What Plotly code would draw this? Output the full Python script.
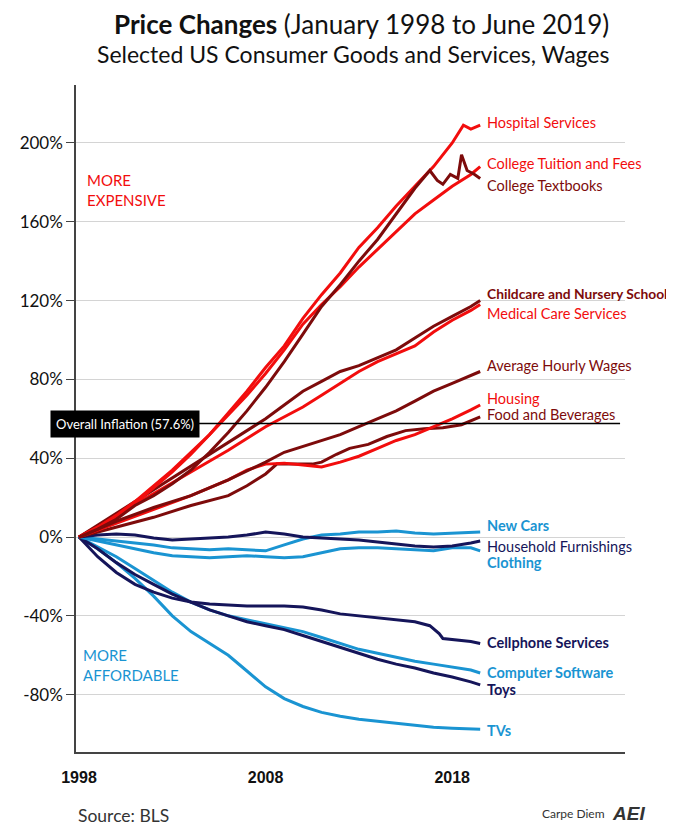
import plotly.graph_objects as go

# ---------------- data (percent change since Jan 1998) ----------------
hosp_x = [1998, 1999, 2000, 2001, 2002, 2003, 2004, 2005, 2006, 2007, 2008, 2009, 2010, 2011, 2012, 2013, 2014, 2015, 2016, 2017, 2018, 2018.6, 2019, 2019.5]
hosp_y = [0, 5, 11, 18, 26, 34, 43, 52, 63, 74, 86, 97, 111, 123, 134, 147, 157, 168, 178, 188, 200, 209, 207, 209]

tuit_x = [1998, 1999, 2000, 2001, 2002, 2003, 2004, 2005, 2006, 2007, 2008, 2009, 2010, 2011, 2012, 2013, 2014, 2015, 2016, 2017, 2018, 2019, 2019.5]
tuit_y = [0, 5, 10, 17, 25, 33, 42, 52, 62, 72, 83, 95, 108, 118, 127, 137, 146, 155, 164, 171, 178, 184, 188]

book_x = [1998, 1999, 2000, 2001, 2002, 2003, 2004, 2005, 2006, 2007, 2008, 2009, 2010, 2011, 2012, 2013, 2014, 2015, 2016, 2016.8, 2017.2, 2017.5, 2017.9, 2018.3, 2018.5, 2018.8, 2019.2, 2019.5]
book_y = [0, 4, 9, 16, 21, 27, 34, 43, 53, 64, 76, 89, 103, 117, 128, 140, 151, 164, 177, 186, 181, 179, 184, 182, 194, 186, 184, 182]

child_x = [1998, 2000, 2002, 2004, 2006, 2008, 2009, 2010, 2011, 2012, 2013, 2014, 2015, 2016, 2017, 2018, 2019, 2019.5]
child_y = [0, 12, 24, 36, 48, 60, 67, 74, 79, 84, 87, 91, 95, 101, 107, 112, 117, 120]

med_x = [1998, 2000, 2002, 2004, 2006, 2008, 2009, 2010, 2011, 2012, 2013, 2014, 2015, 2016, 2017, 2018, 2019, 2019.5]
med_y = [0, 11, 22, 33, 44, 56, 61, 66, 72, 78, 84, 89, 93, 97, 104, 110, 115, 118]

wage_x = [1998, 2000, 2002, 2004, 2006, 2008, 2009, 2010, 2011, 2012, 2013, 2014, 2015, 2016, 2017, 2018, 2019, 2019.5]
wage_y = [0, 8, 15, 21, 29, 38, 43, 46, 49, 52, 56, 60, 64, 69, 74, 78, 82, 84]

hous_x = [1998, 2000, 2002, 2004, 2006, 2007, 2008, 2009, 2010, 2011, 2012, 2013, 2014, 2015, 2016, 2017, 2018, 2019, 2019.5]
hous_y = [0, 7, 14, 21, 29, 34, 37, 37.5, 36.5, 35.5, 38, 41, 45, 49, 52, 56, 60, 64.5, 67]

food_x = [1998, 2000, 2002, 2004, 2006, 2007, 2008, 2008.6, 2009.5, 2010.5, 2011, 2011.8, 2012.5, 2013.5, 2014.5, 2015.5, 2016.5, 2017.5, 2018.5, 2019.5]
food_y = [0, 5, 10, 16, 21, 26, 32, 37, 37, 37, 38, 42, 45, 47, 51, 54, 55, 55.5, 57, 61]

years = [1998, 1999, 2000, 2001, 2002, 2003, 2004, 2005, 2006, 2007, 2008, 2009, 2010, 2011, 2012, 2013, 2014, 2015, 2016, 2017, 2018, 2019, 2019.5]
cars_y = [0, -1, -2, -3, -4, -5.5, -6, -6.5, -6, -6.5, -7, -4, -1, 1, 1.5, 2.5, 2.5, 3, 2, 1.5, 2, 2.5, 2.5]
furn_y = [0, 1, 1.5, 1, -0.5, -1.5, -1, -0.5, 0, 1, 2.5, 1.5, 0, -0.5, -1, -1.5, -2.5, -3.5, -4.5, -5, -4.5, -3, -2]
cloth_y = [0, -2, -4, -6, -8, -9.5, -10, -10.5, -10, -9.5, -10, -10.5, -10, -8, -6, -5.5, -5.5, -6, -6.5, -7, -5.5, -5.5, -7]
soft_y = [0, -5, -10, -16, -22, -28, -33, -37, -40, -42, -44, -46, -48, -51, -54, -57, -59, -61, -63, -64.5, -66, -67.5, -69]
toys_y = [0, -6, -13, -19, -24, -29, -33, -37, -40, -43, -45, -47, -50, -53, -56, -59, -62, -64.5, -66.5, -69, -71, -73.5, -75]
tv_y = [0, -6, -13, -21, -30, -40, -48, -54, -60, -68, -76, -82, -86, -89, -91, -92.5, -93.5, -94.5, -95.5, -96.5, -97, -97.3, -97.5]

cell_x = [1998, 1999, 2000, 2001, 2002, 2003, 2004, 2005, 2006, 2007, 2008, 2009, 2010, 2011, 2012, 2013, 2014, 2015, 2016, 2016.8, 2017.3, 2017.5, 2018, 2019, 2019.5]
cell_y = [0, -10, -18, -24, -28, -31, -33, -34, -34.5, -35, -35, -35, -35.5, -37, -39, -40, -41, -42, -43, -45, -49, -51.5, -52, -53, -54]

inflation = 57.6
y_ticks = [-80, -40, 0, 40, 80, 120, 160, 200]
y_tick_text = ["-80%", "-40%", "0%", "40%", "80%", "120%", "160%", "200%"]
x_ticks = [1998, 2008, 2018]
x_tick_text = ["<b>1998</b>", "<b>2008</b>", "<b>2018</b>"]

RED = "#f20d0d"
DARK = "#7d0b0b"
BLUE = "#1a94d2"
NAVY = "#15155a"

# name, x, y, colour, label y, bold, label font size
series = [
    ("TVs", years, tv_y, BLUE, -98, True, 14.5),
    ("Computer Software", years, soft_y, BLUE, -69, True, 14.5),
    ("Toys", years, toys_y, NAVY, -77.2, True, 14.5),
    ("Cellphone Services", cell_x, cell_y, NAVY, -53.3, True, 14.5),
    ("Clothing", years, cloth_y, BLUE, -12.7, True, 14.5),
    ("New Cars", years, cars_y, BLUE, 5.6, True, 14.5),
    ("Household Furnishings", years, furn_y, NAVY, -4.6, False, 14.5),
    ("Food and Beverages", food_x, food_y, DARK, 62.3, False, 14.5),
    ("Housing", hous_x, hous_y, RED, 70.5, False, 14.5),
    ("Average Hourly Wages", wage_x, wage_y, DARK, 86.8, False, 14.5),
    ("Medical Care Services", med_x, med_y, RED, 113.2, False, 14.5),
    ("Childcare and Nursery School", child_x, child_y, DARK, 123.4, True, 13.8),
    ("Hospital Services", hosp_x, hosp_y, RED, 210.2, False, 14.5),
    ("College Tuition and Fees", tuit_x, tuit_y, RED, 189.8, False, 14.5),
    ("College Textbooks", book_x, book_y, DARK, 178.2, False, 14.5),
]

FONT = "Lato, 'Open Sans', sans-serif"

fig = go.Figure()
annotations = []
for name, xs, ys, col, lab_y, bold, fs in series:
    fig.add_trace(go.Scatter(x=xs, y=ys, mode="lines", name=name,
                             line=dict(color=col, width=3), showlegend=False,
                             hoverinfo="skip"))
    annotations.append(dict(x=2019.75, y=lab_y, xref="x", yref="y",
                            text=("<b>%s</b>" % name) if bold else name,
                            showarrow=False, xanchor="left", yanchor="middle",
                            font=dict(family=FONT, size=fs, color=col)))

PH = 667.0  # plot height in px
annotations += [
    dict(xref="paper", yref="paper", x=0.52, y=1.0 + 61 / PH, xanchor="center", yanchor="middle",
         text="<b>Price Changes</b> (January 1998 to June 2019)", showarrow=False,
         font=dict(family=FONT, size=26, color="#111111")),
    dict(xref="paper", yref="paper", x=0.505, y=1.0 + 31 / PH, xanchor="center", yanchor="middle",
         text="Selected US Consumer Goods and Services, Wages", showarrow=False,
         font=dict(family=FONT, size=23, color="#111111")),
    dict(xref="paper", yref="y", x=0.016, y=176, xanchor="left", yanchor="middle",
         text="MORE<br>EXPENSIVE", showarrow=False, align="left",
         font=dict(family=FONT, size=15, color="#f20d0d")),
    dict(xref="paper", yref="y", x=0.009, y=-65, xanchor="left", yanchor="middle",
         text="MORE<br>AFFORDABLE", showarrow=False, align="left",
         font=dict(family=FONT, size=15, color=BLUE)),
    dict(xref="paper", yref="y", x=0.09, y=inflation, xanchor="center", yanchor="middle",
         text="Overall Inflation (57.6%)", showarrow=False, bgcolor="#000000",
         borderpad=5, font=dict(family=FONT, size=13, color="#ffffff")),
    dict(xref="paper", yref="paper", x=0.0, y=-63 / PH, xanchor="left", yanchor="middle",
         text="Source: BLS", showarrow=False,
         font=dict(family=FONT, size=17.5, color="#333333")),
    dict(xref="paper", yref="paper", x=0.967, y=-61 / PH, xanchor="right", yanchor="middle",
         text="Carpe Diem", showarrow=False,
         font=dict(family=FONT, size=12, color="#333333")),
    dict(xref="paper", yref="paper", x=0.972, y=-61 / PH, xanchor="left", yanchor="middle",
         text="<b><i>AEI</i></b>", showarrow=False,
         font=dict(family="'Liberation Sans', sans-serif", size=19, color="#333333")),
]

fig.add_shape(type="line", xref="paper", yref="y", x0=0, x1=0.991, y0=inflation, y1=inflation,
              line=dict(color="#000000", width=1.5), layer="above")

fig.update_layout(
    width=666, height=818,
    margin=dict(l=64, r=49, t=77, b=74),
    paper_bgcolor="white", plot_bgcolor="white",
    annotations=annotations,
    xaxis=dict(range=[1997.84, 2027.26], tickvals=x_ticks, ticktext=x_tick_text,
               showgrid=False, zeroline=False, showline=True, linecolor="#444444",
               linewidth=1.5, ticks="", ticklabelstandoff=10,
               tickfont=dict(family="'Liberation Sans Narrow', 'Liberation Sans', sans-serif",
                             size=16, color="#111111")),
    yaxis=dict(range=[-109.1, 229.4], tickvals=y_ticks, ticktext=y_tick_text,
               showgrid=True, gridcolor="#d4d4d4", gridwidth=1.2, zeroline=False,
               showline=True, linecolor="#444444", linewidth=1.5,
               ticks="outside", ticklen=8, tickcolor="#444444",
               tickfont=dict(family=FONT, size=17, color="#111111")),
)

fig.write_html("out.html")
